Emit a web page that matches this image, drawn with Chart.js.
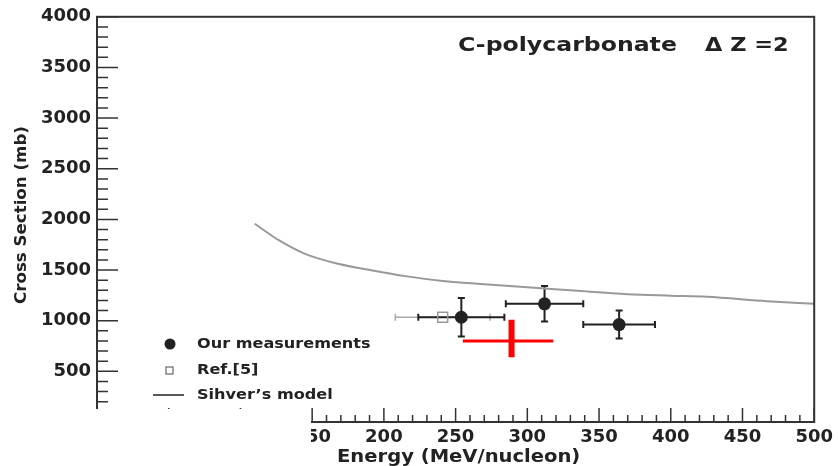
<!DOCTYPE html>
<html>
<head>
<meta charset="utf-8">
<script src="https://cdn.jsdelivr.net/npm/chart.js@4.4.1/dist/chart.umd.min.js"></script>
<style>
  html, body { margin: 0; padding: 0; background: #fff; }
  #wrap { width: 838px; height: 466px; }
</style>
</head>
<body>
<div id="wrap"><canvas id="chart" width="838" height="466"></canvas></div>
<script>
// our measurements
const measE = [254, 312, 364];
const measXS = [1034, 1167, 962];
const measEErr = [30, 27, 25];
const measXSErr = [190, 175, 138];

// Ref.[5]
const refE = [241];
const refXS = [1034];
const refELo = [208];
const refEHi = [274];

// Sihver's model
const modelE = [110, 127, 145, 168, 192, 215, 238, 270, 300, 335, 370, 400, 425, 467, 500];
const modelXS = [1957, 1792, 1660, 1562, 1496, 1440, 1397, 1360, 1331, 1295, 1262, 1247, 1236, 1193, 1167];

// red cross
const redE = [289];
const redXS = [800];
const redELo = [255];
const redEHi = [318];
const redXSLo = [640];
const redXSHi = [1010];

const xTicks = [0, 50, 100, 150, 200, 250, 300, 350, 400, 450, 500];
const yTicks = [0, 500, 1000, 1500, 2000, 2500, 3000, 3500, 4000];

const FONT = "'DejaVu Sans', sans-serif";
const INK = "#222";

const pts = (xs, ys) => xs.map((x, i) => ({ x: x, y: ys[i] }));

// text drawn a bit wider than the font, like the original
function wideText(ctx, text, x, y, sx) {
  ctx.save();
  ctx.translate(x, y);
  ctx.scale(sx, 1);
  ctx.fillText(text, 0, 0);
  ctx.restore();
}

const extras = {
  id: "extras",
  beforeDatasetsDraw(chart) {
    const ctx = chart.ctx;
    const xs = chart.scales.x, ys = chart.scales.y;
    const cap = 3.5;
    function bar(x0, y0, x1, y1, color, w, vertical) {
      ctx.strokeStyle = color;
      ctx.lineWidth = w;
      ctx.beginPath();
      ctx.moveTo(x0, y0); ctx.lineTo(x1, y1);
      if (vertical) {
        ctx.moveTo(x0 - cap, y0); ctx.lineTo(x0 + cap, y0);
        ctx.moveTo(x1 - cap, y1); ctx.lineTo(x1 + cap, y1);
      } else {
        ctx.moveTo(x0, y0 - cap); ctx.lineTo(x0, y0 + cap);
        ctx.moveTo(x1, y1 - cap); ctx.lineTo(x1, y1 + cap);
      }
      ctx.stroke();
    }
    ctx.save();
    refE.forEach((e, i) => {
      const py = ys.getPixelForValue(refXS[i]);
      bar(xs.getPixelForValue(refELo[i]), py, xs.getPixelForValue(refEHi[i]), py, "#aaa", 1.5, false);
    });
    measE.forEach((e, i) => {
      const px = xs.getPixelForValue(e), py = ys.getPixelForValue(measXS[i]);
      bar(xs.getPixelForValue(e - measEErr[i]), py, xs.getPixelForValue(e + measEErr[i]), py, INK, 2, false);
      bar(px, ys.getPixelForValue(measXS[i] + measXSErr[i]), px, ys.getPixelForValue(measXS[i] - measXSErr[i]), INK, 2, true);
    });
    ctx.restore();
  },
  afterDraw(chart) {
    const ctx = chart.ctx;
    const a = chart.chartArea;
    const xs = chart.scales.x, ys = chart.scales.y;
    ctx.save();
    // frame
    ctx.strokeStyle = "#333";
    ctx.lineWidth = 2;
    ctx.strokeRect(a.left, a.top, a.right - a.left, a.bottom - a.top);
    // inward ticks
    ctx.lineWidth = 1.5;
    ctx.beginPath();
    for (let v = 0; v <= 4000; v += 100) {
      const py = ys.getPixelForValue(v);
      const len = v % 500 === 0 ? 21 : 11;
      ctx.moveTo(a.left, py); ctx.lineTo(a.left + len, py);
    }
    for (let v = 0; v <= 500; v += 10) {
      const px = xs.getPixelForValue(v);
      const len = v % 50 === 0 ? 14 : 7;
      ctx.moveTo(px, a.bottom); ctx.lineTo(px, a.bottom - len);
    }
    ctx.stroke();

    // title
    ctx.fillStyle = INK;
    ctx.textBaseline = "middle";
    ctx.textAlign = "left";
    ctx.font = "bold 20px " + FONT;
    wideText(ctx, "C-polycarbonate", 458, 46, 1.18);
    ctx.font = "bold 20px " + FONT;
    wideText(ctx, "\u0394 Z =2", 705, 46, 1.12);

    // legend
    ctx.font = "bold 14px " + FONT;
    ctx.fillStyle = INK;
    ctx.beginPath(); ctx.arc(170, 344, 5.5, 0, Math.PI * 2); ctx.fill();
    wideText(ctx, "Our measurements", 197, 344, 1.15);
    ctx.strokeStyle = "#666"; ctx.lineWidth = 1.2;
    ctx.strokeRect(166, 367, 7, 7);
    wideText(ctx, "Ref.[5]", 197, 370, 1.15);
    ctx.strokeStyle = INK; ctx.lineWidth = 1.5;
    ctx.beginPath(); ctx.moveTo(153, 395); ctx.lineTo(184, 395); ctx.stroke();
    wideText(ctx, "Sihver\u2019s model", 197, 395, 1.15);

    // axis titles
    ctx.font = "bold 17px " + FONT;
    wideText(ctx, "Energy (MeV/nucleon)", 337, 458, 1.15);
    ctx.save();
    ctx.translate(22, 215);
    ctx.rotate(-Math.PI / 2);
    ctx.scale(1.11, 1);
    ctx.textAlign = "center";
    ctx.font = "bold 15px " + FONT;
    ctx.fillText("Cross Section (mb)", 0, 0);
    ctx.restore();

    // white cut-out in lower left
    ctx.fillStyle = "#fff";
    ctx.fillRect(0, 409, 311, 466 - 409);
    ctx.restore();
  }
};

new Chart(document.getElementById("chart"), {
  type: "scatter",
  data: {
    datasets: [
      {
        type: "line",
        data: pts(modelE, modelXS),
        borderColor: "#999",
        borderWidth: 2,
        pointRadius: 0,
        cubicInterpolationMode: "monotone",
        fill: false
      },
      {
        data: pts(refE, refXS),
        pointStyle: "rect",
        pointRadius: 7,
        borderColor: "#999",
        borderWidth: 1.5,
        backgroundColor: "rgba(255,255,255,0)"
      },
      {
        data: pts(measE, measXS),
        pointRadius: 6.5,
        backgroundColor: INK,
        borderColor: INK,
        borderWidth: 0
      },
      {
        type: "line",
        data: [{ x: redELo[0], y: redXS[0] }, { x: redEHi[0], y: redXS[0] }],
        borderColor: "#ff0000",
        borderWidth: 3,
        pointRadius: 0
      },
      {
        type: "line",
        data: [{ x: redE[0], y: redXSLo[0] }, { x: redE[0], y: redXSHi[0] }],
        borderColor: "#ff0000",
        borderWidth: 6,
        pointRadius: 0
      }
    ]
  },
  options: {
    responsive: false,
    animation: false,
    layout: { padding: { top: 16, right: 20, left: 0, bottom: 0 } },
    plugins: { legend: { display: false }, tooltip: { enabled: false } },
    scales: {
      x: {
        type: "linear",
        min: 0, max: 500,
        afterBuildTicks: s => { s.ticks = xTicks.map(v => ({ value: v })); },
        afterFit: s => { s.height = 44; },
        grid: { display: false, drawTicks: false },
        border: { display: false },
        ticks: { padding: 5, color: INK, font: { family: FONT, size: 18, weight: "bold" }, maxRotation: 0,
                 callback: v => String(v) }
      },
      y: {
        type: "linear",
        min: 0, max: 4000,
        afterBuildTicks: s => { s.ticks = yTicks.map(v => ({ value: v })); },
        afterFit: s => { s.width = 97; },
        grid: { display: false, drawTicks: false },
        border: { display: false },
        ticks: { padding: 6, color: INK, font: { family: FONT, size: 18, weight: "bold" },
                 callback: v => String(v) }
      }
    }
  },
  plugins: [extras]
});
</script>
</body>
</html>
